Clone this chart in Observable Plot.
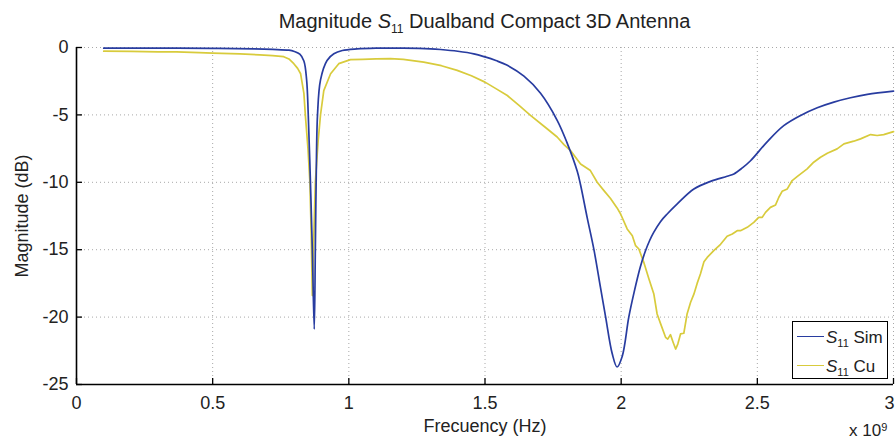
<!DOCTYPE html>
<html>
<head>
<meta charset="utf-8">
<script src="https://cdn.jsdelivr.net/npm/d3@7"></script>
<script src="https://cdn.jsdelivr.net/npm/@observablehq/plot@0.6"></script>
<style>
  body { margin: 0; background: #fff; font-family: "Liberation Sans", Arial, Helvetica, sans-serif; color: #222; }
  #wrap { position: relative; width: 896px; height: 439px; overflow: hidden; }
  #chart svg { display: block; }
  .title { position: absolute; left: 76px; width: 817px; top: 11px; text-align: center; font-size: 20px; line-height: 20px; white-space: nowrap; }
  .title .sub { font-size: 12px; position: relative; top: 5px; }
  .legend .sub { font-size: 11px; position: relative; top: 4px; }
  .legend { position: absolute; left: 792px; top: 321px; width: 96px; height: 58px; border: 1.5px solid #000; background: #fff; box-sizing: border-box; font-size: 17px; }
  .legend .row { position: absolute; left: 0; height: 20px; line-height: 20px; white-space: nowrap; }
  .legend .sw { position: absolute; left: 4px; width: 27px; height: 0; border-top: 1.6px solid; }
  .legend .txt { position: absolute; left: 33px; top: 0; }
  .exp { position: absolute; left: 849px; top: 422px; font-size: 17px; line-height: 17px; white-space: nowrap; }
  .exp sup { font-size: 11px; position: relative; top: -3px; vertical-align: top; }
</style>
</head>
<body>
<div id="wrap">
  <div id="chart"></div>
  <div class="title">Magnitude <i>S</i><span class="sub">11</span> Dualband Compact 3D Antenna</div>
  <div class="legend" id="legend"></div>
  <div class="exp">x 10<sup>9</sup></div>
</div>
<script>
// ---- data (frequency in GHz, i.e. x 10^9 Hz; magnitude in dB) ----
const seriesNames = ["Sim", "Cu"];
const seriesColors = ["#283ca0", "#d8cb3c"];

const simFreq = [0.10, 0.30, 0.50, 0.65, 0.72, 0.78, 0.80, 0.82, 0.835, 0.845, 0.851, 0.859, 0.866, 0.873, 0.877, 0.880, 0.885, 0.896, 0.920, 0.945, 0.976, 1.03, 1.10, 1.20, 1.30, 1.337, 1.40, 1.459, 1.50, 1.54, 1.58, 1.643, 1.704, 1.765, 1.80, 1.839, 1.851, 1.875, 1.90, 1.924, 1.943, 1.967, 1.985, 2.004, 2.028, 2.047, 2.070, 2.089, 2.105, 2.120, 2.145, 2.169, 2.206, 2.267, 2.328, 2.389, 2.414, 2.445, 2.475, 2.536, 2.597, 2.659, 2.72, 2.781, 2.842, 2.904, 3.0];
const simDb = [-0.05, -0.05, -0.06, -0.1, -0.14, -0.2, -0.3, -0.5, -1.0, -2.4, -5.0, -10.0, -15.0, -20.9, -15.0, -10.0, -5.0, -2.4, -0.96, -0.47, -0.22, -0.1, -0.05, -0.05, -0.1, -0.15, -0.28, -0.47, -0.7, -0.97, -1.3, -2.13, -3.4, -5.4, -7.0, -9.2, -10.2, -12.6, -15.0, -17.8, -20.0, -22.7, -23.7, -22.9, -20.0, -18.2, -16.3, -15.1, -14.3, -13.7, -12.9, -12.35, -11.6, -10.5, -9.93, -9.55, -9.38, -8.93, -8.4, -7.0, -5.8, -5.04, -4.47, -4.05, -3.73, -3.48, -3.24];

const cuFreq = [0.10, 0.20, 0.30, 0.367, 0.45, 0.50, 0.60, 0.673, 0.72, 0.761, 0.78, 0.798, 0.812, 0.823, 0.835, 0.841, 0.850, 0.857, 0.862, 0.866, 0.870, 0.877, 0.887, 0.896, 0.908, 0.933, 0.963, 1.006, 1.05, 1.10, 1.153, 1.20, 1.275, 1.34, 1.398, 1.45, 1.50, 1.54, 1.582, 1.625, 1.667, 1.72, 1.765, 1.790, 1.814, 1.851, 1.887, 1.912, 1.936, 1.961, 1.985, 1.998, 2.022, 2.041, 2.053, 2.065, 2.083, 2.102, 2.120, 2.132, 2.145, 2.163, 2.171, 2.181, 2.191, 2.200, 2.208, 2.218, 2.230, 2.242, 2.255, 2.267, 2.279, 2.291, 2.304, 2.316, 2.340, 2.365, 2.389, 2.408, 2.426, 2.438, 2.463, 2.487, 2.505, 2.518, 2.530, 2.548, 2.567, 2.579, 2.591, 2.610, 2.628, 2.646, 2.683, 2.707, 2.732, 2.757, 2.793, 2.818, 2.854, 2.879, 2.916, 2.940, 2.964, 3.0];
const cuDb = [-0.27, -0.29, -0.33, -0.33, -0.38, -0.42, -0.47, -0.55, -0.6, -0.68, -0.85, -1.2, -1.55, -1.95, -3.4, -5.2, -7.5, -10.0, -14.0, -18.4, -15.0, -10.0, -7.0, -5.0, -3.2, -1.95, -1.2, -0.9, -0.88, -0.84, -0.83, -0.88, -1.09, -1.35, -1.7, -2.1, -2.57, -3.05, -3.56, -4.3, -5.04, -5.9, -6.64, -7.2, -7.65, -8.64, -9.13, -10.0, -10.6, -11.2, -11.9, -12.35, -13.46, -13.96, -14.7, -14.95, -15.94, -17.17, -18.29, -19.77, -20.5, -21.5, -21.63, -21.3, -21.88, -22.37, -22.0, -21.25, -21.2, -19.77, -18.9, -18.3, -17.5, -16.8, -15.9, -15.57, -15.07, -14.6, -14.0, -13.83, -13.59, -13.59, -13.34, -12.97, -12.6, -12.6, -12.23, -11.86, -11.68, -11.11, -10.67, -10.49, -9.87, -9.58, -9.0, -8.51, -8.14, -7.84, -7.52, -7.15, -6.95, -6.78, -6.46, -6.53, -6.46, -6.24];

const xTickValues = [0, 0.5, 1, 1.5, 2, 2.5, 3];
const xTickLabels = ["0", "0.5", "1", "1.5", "2", "2.5", "3"];
const yTickValues = [-25, -20, -15, -10, -5, 0];
const yTickLabels = ["-25", "-20", "-15", "-10", "-5", "0"];
const xLabel = "Frecuency (Hz)";
const yLabel = "Magnitude (dB)";

// ---- build tables ----
const sim = simFreq.map((f, i) => ({f, db: simDb[i]}));
const cu = cuFreq.map((f, i) => ({f, db: cuDb[i]}));

const W = 896, H = 439, mL = 76, mR = 3, mT = 47, mB = 55;
const innerH = H - mT - mB, innerW = W - mL - mR;
const tickLen = 6;
const gridStyle = {stroke: "#a8a8a8", strokeWidth: 1, strokeDasharray: "1,3"};
const xFmt = d => xTickLabels[xTickValues.indexOf(d)];
const lastX = xTickValues[xTickValues.length - 1];

const chart = Plot.plot({
  width: W, height: H,
  marginLeft: mL, marginRight: mR, marginTop: mT, marginBottom: mB,
  x: {domain: [0, 3]},
  y: {domain: [-25, 0]},
  style: {fontFamily: "'Liberation Sans', Arial, Helvetica, sans-serif", fontSize: "18px", color: "#222", background: "transparent", overflow: "visible"},
  marks: [
    Plot.ruleX(xTickValues.filter(d => d > 0), {x: d => d, ...gridStyle}),
    Plot.ruleY(yTickValues.filter(d => d > -25), {y: d => d, ...gridStyle}),
    Plot.line(cu, {x: "f", y: "db", stroke: seriesColors[1], strokeWidth: 1.7, curve: "linear"}),
    Plot.line(sim, {x: "f", y: "db", stroke: seriesColors[0], strokeWidth: 1.7, curve: "catmull-rom"}),
    Plot.ruleX(xTickValues, {x: d => d, stroke: "#000", strokeWidth: 1.3, insetTop: innerH - tickLen}),
    Plot.ruleY(yTickValues, {y: d => d, stroke: "#000", strokeWidth: 1.3, insetRight: innerW - tickLen}),
    Plot.ruleX([0], {stroke: "#000", strokeWidth: 1.6}),
    Plot.ruleY([-25], {stroke: "#000", strokeWidth: 1.6}),
    Plot.axisX({ticks: xTickValues.filter(d => d !== lastX), tickSize: 0, tickPadding: 12, tickFormat: xFmt, label: null, fontSize: 18}),
    Plot.axisX({ticks: [lastX], tickSize: 0, tickPadding: 12, tickFormat: xFmt, label: null, fontSize: 18, dx: -4}),
    Plot.axisY({ticks: yTickValues, tickSize: 0, tickPadding: 8, tickFormat: d => yTickLabels[yTickValues.indexOf(d)], label: null, fontSize: 18}),
    Plot.text([xLabel], {text: d => d, frameAnchor: "bottom", lineAnchor: "middle", textAnchor: "middle", dy: 42, fontSize: 18, fill: "#222"}),
    Plot.text([yLabel], {text: d => d, frameAnchor: "left", textAnchor: "middle", lineAnchor: "middle", dx: -54, rotate: -90, fontSize: 18, fill: "#222"})
  ]
});
document.getElementById("chart").appendChild(chart);

// ---- legend (HTML, for italic S with subscript) ----
const legend = document.getElementById("legend");
const rowTops = [6, 35];
seriesNames.forEach((name, i) => {
  const row = document.createElement("div");
  row.className = "row";
  row.style.top = rowTops[i] + "px";
  row.style.width = "100%";
  row.innerHTML = `<div class="sw" style="top:8px;border-color:${seriesColors[i]}"></div><div class="txt"><i>S</i><span class="sub">11</span> ${name}</div>`;
  legend.appendChild(row);
});
</script>
</body>
</html>
